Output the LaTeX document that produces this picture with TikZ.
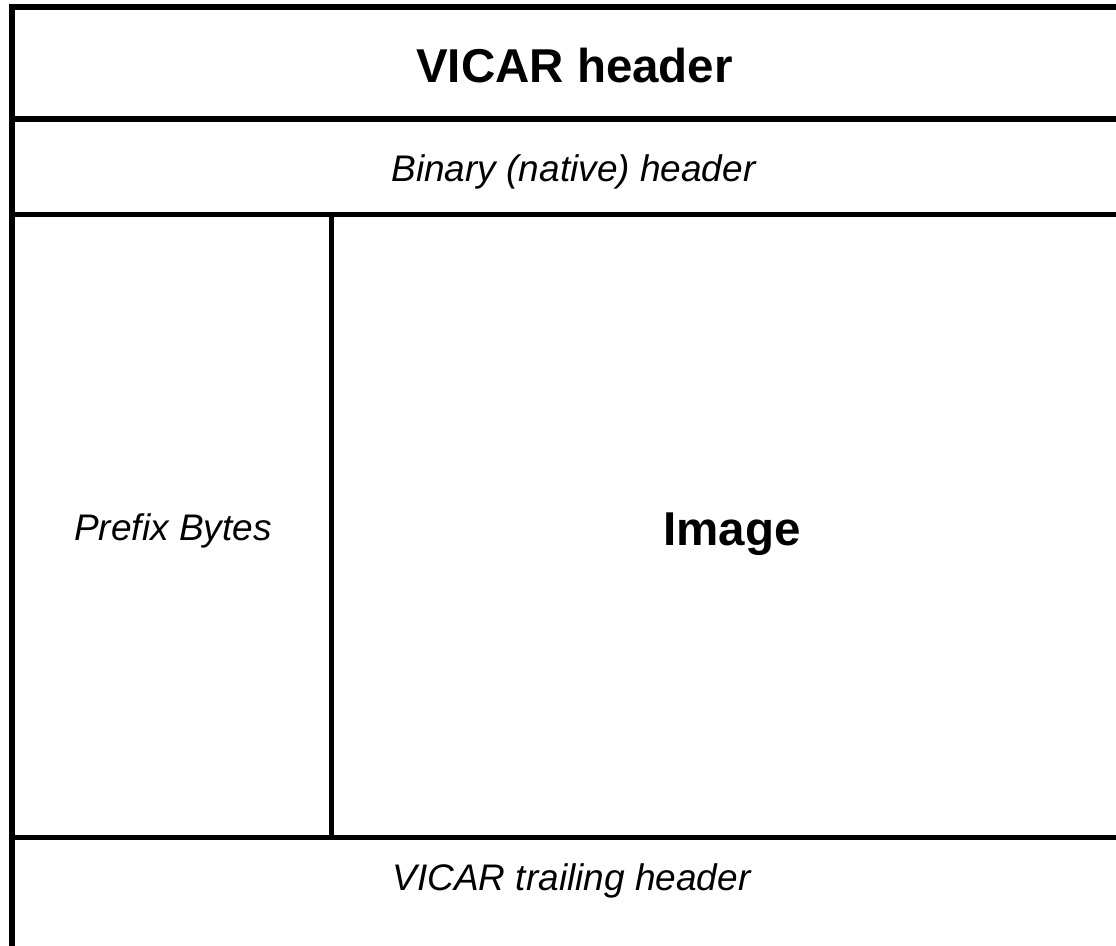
\documentclass[tikz,border=0pt]{standalone}
\usepackage{fontspec}
\setmainfont{Liberation Sans}
\tikzset{
  frame/.style={line width=5.4bp, black, line cap=rect},
  bigtitle/.style={font=\bfseries\fontsize{47.5bp}{56bp}\selectfont, anchor=base, inner sep=0pt},
  smalltitle/.style={font=\itshape\fontsize{37bp}{44bp}\selectfont, anchor=base, inner sep=0pt},
}
\begin{document}
\begin{tikzpicture}[x=1bp, y=-1bp]
\useasboundingbox (0,0) rectangle (1116,946);
\clip (0,0) rectangle (1116,946);
\fill[white] (0,0) rectangle (1116,946);
% outer frame (right and bottom edges lie outside the visible area)
\draw[frame] (12,7) rectangle (1137,970);
\draw[frame] (12,119) -- (1137,119);
\draw[frame] (12,214.5) -- (1137,214.5);
\draw[frame] (12,837.5) -- (1137,837.5);
\draw[frame] (331.5,214.5) -- (331.5,837.5);
% texts
\node[bigtitle] (vicar) at (574.5,82.7) {VICAR header};
\node[smalltitle] (binary) at (573.5,181.7) {Binary (native) header};
\node[smalltitle] (prefix) at (173,540.7) {Prefix Bytes};
\node[bigtitle] (image) at (732,545) {Image};
\node[smalltitle] (trailing) at (571.5,890) {VICAR trailing header};
\end{tikzpicture}
\end{document}
